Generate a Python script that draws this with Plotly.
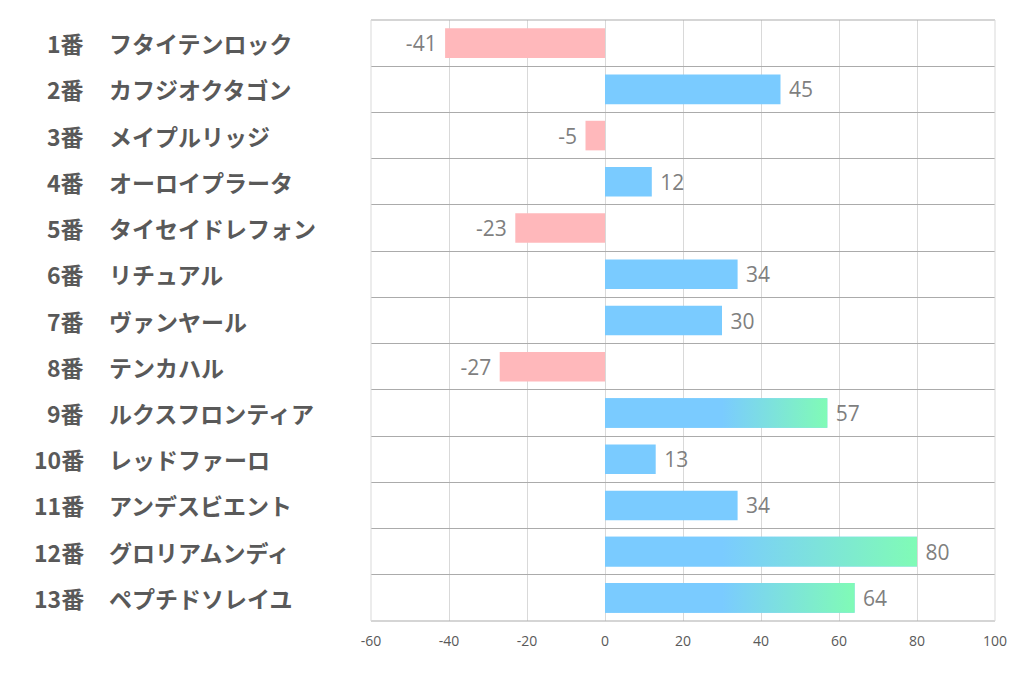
import plotly.graph_objects as go

numbers = ["1番", "2番", "3番", "4番", "5番", "6番", "7番", "8番", "9番", "10番", "11番", "12番", "13番"]
names = ["フタイテンロック", "カフジオクタゴン", "メイプルリッジ", "オーロイプラータ", "タイセイドレフォン",
         "リチュアル", "ヴァンヤール", "テンカハル", "ルクスフロンティア", "レッドファーロ",
         "アンデスビエント", "グロリアムンディ", "ペプチドソレイユ"]
values = [-41, 45, -5, 12, -23, 34, 30, -27, 57, 13, 34, 80, 64]
x_ticks = [-60, -40, -20, 0, 20, 40, 60, 80, 100]
x_tick_labels = ["-60", "-40", "-20", "0", "20", "40", "60", "80", "100"]

BLUE = "#7ACBFF"
GREEN = "#80FBB6"
PINK = "#FFB8BB"
ROW_LINE = "#ABABAB"
GRID = "#D9D9D9"
GRAD_START = 30
GRAD_MIN = 50
BAR_W = 0.64

rows = list(range(len(values)))
colors = [PINK if v < 0 else BLUE for v in values]
labels = [f"{v} " if v < 0 else f" {v}" for v in values]

fig = go.Figure()
fig.add_trace(go.Bar(
    x=values, y=rows, orientation="h", width=BAR_W,
    marker=dict(color=colors, line=dict(width=0)),
    text=labels, textposition="outside",
    textfont=dict(family="Open Sans", size=21, color="#7F7F7F"),
    cliponaxis=False, showlegend=False, hoverinfo="skip",
))

# gradient overlays for the long bars
for r, v in zip(rows, values):
    if v >= GRAD_MIN:
        y0, y1 = r - BAR_W / 2, r + BAR_W / 2
        fig.add_trace(go.Scatter(
            x=[0, v, v, 0, 0], y=[y0, y0, y1, y1, y0], mode="lines",
            line=dict(width=0), fill="toself",
            fillgradient=dict(type="horizontal", start=GRAD_START, stop=v,
                              colorscale=[[0, BLUE], [1, GREEN]]),
            showlegend=False, hoverinfo="skip",
        ))

PLOT_W = 624
for r, (n, nm) in enumerate(zip(numbers, names)):
    fig.add_annotation(x=-(371 - 86) / PLOT_W, xref="x domain", y=r, yref="y",
                       text=f"<b>{n}</b>", showarrow=False, xanchor="right",
                       font=dict(family="Noto Sans CJK JP", size=23, color="#595959"))
    fig.add_annotation(x=-(371 - 107) / PLOT_W, xref="x domain", y=r, yref="y",
                       text=f"<b>{nm}</b>", showarrow=False, xanchor="left",
                       font=dict(family="Noto Sans CJK JP", size=23, color="#595959"))

# frame lines
fig.add_shape(type="line", xref="x domain", yref="y domain", x0=0, x1=1, y0=1, y1=1,
              line=dict(color=ROW_LINE, width=1))
fig.add_shape(type="line", xref="x domain", yref="y domain", x0=0, x1=1, y0=0, y1=0,
              line=dict(color=ROW_LINE, width=1))
fig.add_shape(type="line", xref="x domain", yref="y domain", x0=0, x1=0, y0=0, y1=1,
              line=dict(color=GRID, width=1))
fig.add_shape(type="line", xref="x domain", yref="y domain", x0=1, x1=1, y0=0, y1=1,
              line=dict(color=GRID, width=1))

fig.update_layout(
    width=1022, height=678,
    margin=dict(l=363, r=35, t=12, b=65),
    paper_bgcolor="white", plot_bgcolor="white",
    xaxis=dict(range=[-60, 100], tickvals=x_ticks, ticktext=x_tick_labels,
               showgrid=True, gridcolor=GRID, gridwidth=1, zeroline=False, showline=False,
               ticks="outside", ticklen=7, tickcolor="rgba(0,0,0,0)",
               tickfont=dict(family="Open Sans", size=14, color="#595959")),
    yaxis=dict(range=[12.5, -0.5], tickvals=[i - 0.5 for i in range(len(values) + 1)],
               showticklabels=False, showgrid=True, gridcolor=ROW_LINE, gridwidth=1,
               zeroline=False, showline=False, ticks=""),
)

fig.write_html("out.html")
